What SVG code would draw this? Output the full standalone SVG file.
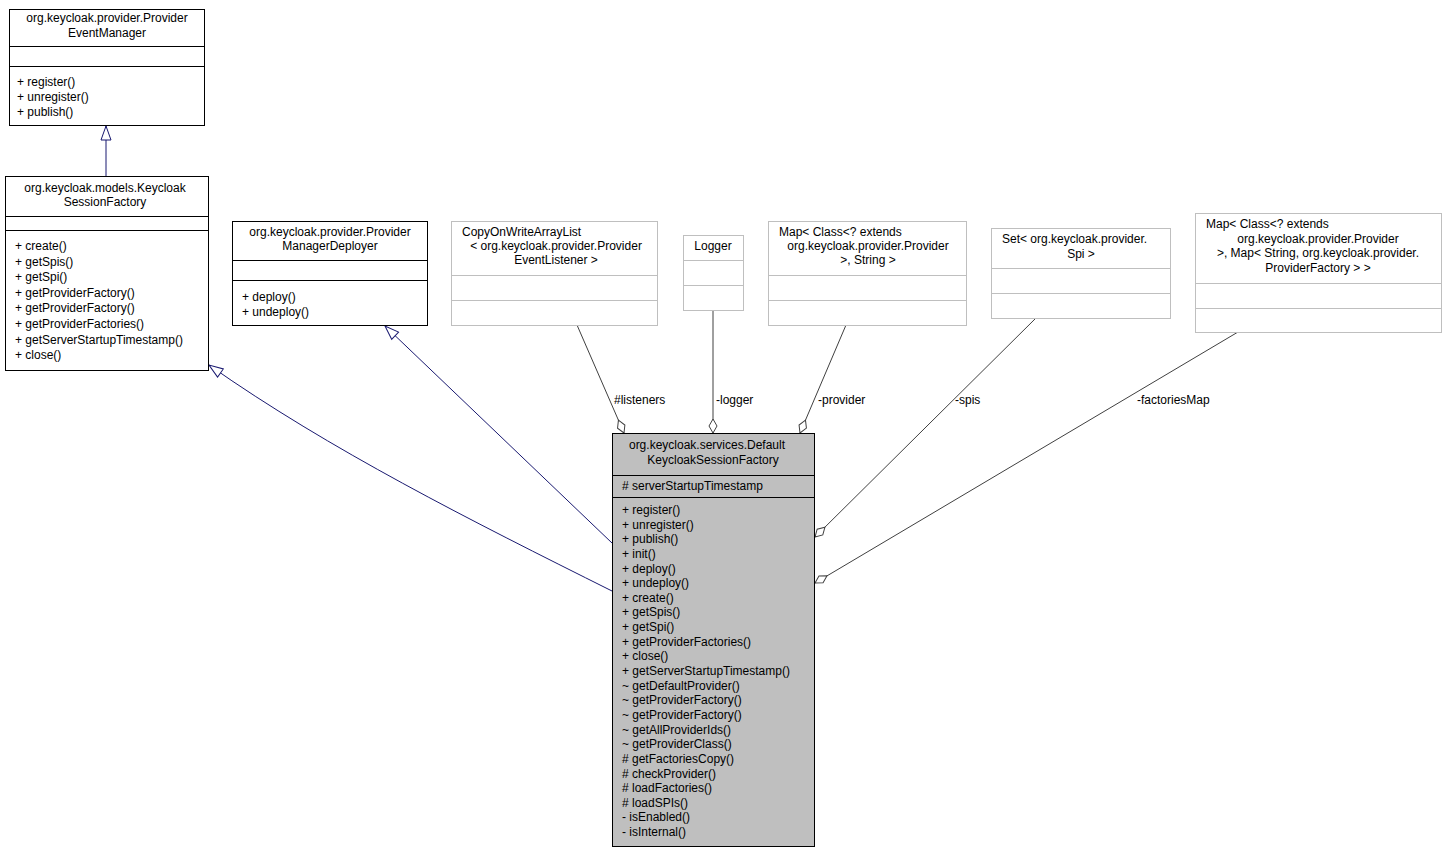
<svg xmlns="http://www.w3.org/2000/svg" width="1447" height="853" viewBox="0 0 1447 853">
<style>
text{font-family:"Liberation Sans",Arial,sans-serif;font-size:12px;fill:#000}
.b{fill:#fff;stroke:#000;stroke-width:1}
.g{fill:#fff;stroke:#bfbfbf;stroke-width:1}
.m{fill:#bfbfbf;stroke:#000;stroke-width:1}
.inh{fill:none;stroke:#191970;stroke-width:1}
.agg{fill:none;stroke:#404040;stroke-width:1}
.c{text-anchor:middle}
</style>
<defs>
<marker id="tri" markerWidth="16" markerHeight="12" refX="15" refY="6" orient="auto" markerUnits="userSpaceOnUse">
<path d="M1,1 L15,6 L1,11 Z" fill="#fff" stroke="#191970"/>
</marker>
<marker id="dia" markerWidth="16" markerHeight="10" refX="15" refY="5" orient="auto" markerUnits="userSpaceOnUse">
<path d="M1,5 L8,1 L15,5 L8,9 Z" fill="#fff" stroke="#404040"/>
</marker>
</defs>
<rect width="1447" height="853" fill="#fff"/>
<g id="connectors">
<path class="inh" d="M106,176 L106,126" marker-end="url(#tri)"/>
<path class="inh" d="M612,591 C470,520 330,450 209,365" marker-end="url(#tri)"/>
<path class="inh" d="M612,543 L385,326" marker-end="url(#tri)"/>
<path class="agg" d="M577,325 L624,433" marker-end="url(#dia)"/>
<path class="agg" d="M713,310 L713,433" marker-end="url(#dia)"/>
<path class="agg" d="M846,325 L800,433" marker-end="url(#dia)"/>
<path class="agg" d="M1036,318 L815,537" marker-end="url(#dia)"/>
<path class="agg" d="M1238,332 L815,583" marker-end="url(#dia)"/>
<text x="614" y="404">#listeners</text>
<text x="716" y="404">-logger</text>
<text x="818" y="404">-provider</text>
<text x="955" y="404">-spis</text>
<text x="1137" y="404">-factoriesMap</text>
</g>
<g id="ProviderEventManager">
<rect class="b" x="9.5" y="9.5" width="195" height="116"/>
<line x1="9.5" y1="46.5" x2="204.5" y2="46.5" stroke="#000"/>
<line x1="9.5" y1="66.5" x2="204.5" y2="66.5" stroke="#000"/>
<text class="c" x="107" y="22">org.keycloak.provider.Provider</text>
<text class="c" x="107" y="37">EventManager</text>
<text x="17" y="86">+ register()</text>
<text x="17" y="101">+ unregister()</text>
<text x="17" y="116">+ publish()</text>
</g>
<g id="KeycloakSessionFactory">
<rect class="b" x="5.5" y="176.5" width="203" height="194"/>
<line x1="5.5" y1="216.5" x2="208.5" y2="216.5" stroke="#000"/>
<line x1="5.5" y1="230.5" x2="208.5" y2="230.5" stroke="#000"/>
<text class="c" x="105" y="192">org.keycloak.models.Keycloak</text>
<text class="c" x="105" y="206">SessionFactory</text>
<text x="15" y="250">+ create()</text>
<text x="15" y="265.6">+ getSpis()</text>
<text x="15" y="281.2">+ getSpi()</text>
<text x="15" y="296.8">+ getProviderFactory()</text>
<text x="15" y="312.4">+ getProviderFactory()</text>
<text x="15" y="328">+ getProviderFactories()</text>
<text x="15" y="343.6">+ getServerStartupTimestamp()</text>
<text x="15" y="359.2">+ close()</text>
</g>
<g id="ProviderManagerDeployer">
<rect class="b" x="232.5" y="221.5" width="195" height="104"/>
<line x1="232.5" y1="260.5" x2="427.5" y2="260.5" stroke="#000"/>
<line x1="232.5" y1="280.5" x2="427.5" y2="280.5" stroke="#000"/>
<text class="c" x="330" y="236">org.keycloak.provider.Provider</text>
<text class="c" x="330" y="250">ManagerDeployer</text>
<text x="242" y="301">+ deploy()</text>
<text x="242" y="316">+ undeploy()</text>
</g>
<g id="CopyOnWriteArrayList">
<rect class="g" x="451.5" y="221.5" width="206" height="104"/>
<line x1="451.5" y1="275.5" x2="657.5" y2="275.5" stroke="#bfbfbf"/>
<line x1="451.5" y1="300.5" x2="657.5" y2="300.5" stroke="#bfbfbf"/>
<text x="462" y="236">CopyOnWriteArrayList</text>
<text class="c" x="556" y="250">&lt; org.keycloak.provider.Provider</text>
<text class="c" x="556" y="264">EventListener &gt;</text>
</g>
<g id="Logger">
<rect class="g" x="683.5" y="235.5" width="60" height="75"/>
<line x1="683.5" y1="260.5" x2="743.5" y2="260.5" stroke="#bfbfbf"/>
<line x1="683.5" y1="285.5" x2="743.5" y2="285.5" stroke="#bfbfbf"/>
<text class="c" x="713" y="250">Logger</text>
</g>
<g id="MapProvider">
<rect class="g" x="768.5" y="221.5" width="198" height="104"/>
<line x1="768.5" y1="275.5" x2="966.5" y2="275.5" stroke="#bfbfbf"/>
<line x1="768.5" y1="300.5" x2="966.5" y2="300.5" stroke="#bfbfbf"/>
<text x="779" y="236">Map&lt; Class&lt;? extends</text>
<text class="c" x="868" y="250">org.keycloak.provider.Provider</text>
<text class="c" x="868" y="264">&gt;, String &gt;</text>
</g>
<g id="SetSpi">
<rect class="g" x="991.5" y="228.5" width="179" height="90"/>
<line x1="991.5" y1="268.5" x2="1170.5" y2="268.5" stroke="#bfbfbf"/>
<line x1="991.5" y1="293.5" x2="1170.5" y2="293.5" stroke="#bfbfbf"/>
<text x="1002" y="243">Set&lt; org.keycloak.provider.</text>
<text class="c" x="1081" y="258">Spi &gt;</text>
</g>
<g id="MapFactories">
<rect class="g" x="1195.5" y="213.5" width="246" height="119"/>
<line x1="1195.5" y1="283.5" x2="1441.5" y2="283.5" stroke="#bfbfbf"/>
<line x1="1195.5" y1="308.5" x2="1441.5" y2="308.5" stroke="#bfbfbf"/>
<text x="1206" y="228">Map&lt; Class&lt;? extends</text>
<text class="c" x="1318" y="243">org.keycloak.provider.Provider</text>
<text class="c" x="1318" y="257">&gt;, Map&lt; String, org.keycloak.provider.</text>
<text class="c" x="1318" y="272">ProviderFactory &gt; &gt;</text>
</g>
<g id="DefaultKeycloakSessionFactory">
<rect class="m" x="612.5" y="433.5" width="202" height="413"/>
<line x1="612.5" y1="475.5" x2="814.5" y2="475.5" stroke="#000"/>
<line x1="612.5" y1="497.5" x2="814.5" y2="497.5" stroke="#000"/>
<text class="c" x="707" y="449">org.keycloak.services.Default</text>
<text class="c" x="713" y="464">KeycloakSessionFactory</text>
<text x="622" y="490"># serverStartupTimestamp</text>
<g transform="translate(622,514)">
<text y="0">+ register()</text>
<text y="14.64">+ unregister()</text>
<text y="29.28">+ publish()</text>
<text y="43.92">+ init()</text>
<text y="58.56">+ deploy()</text>
<text y="73.2">+ undeploy()</text>
<text y="87.84">+ create()</text>
<text y="102.48">+ getSpis()</text>
<text y="117.12">+ getSpi()</text>
<text y="131.76">+ getProviderFactories()</text>
<text y="146.4">+ close()</text>
<text y="161.04">+ getServerStartupTimestamp()</text>
<text y="175.68">~ getDefaultProvider()</text>
<text y="190.32">~ getProviderFactory()</text>
<text y="204.96">~ getProviderFactory()</text>
<text y="219.6">~ getAllProviderIds()</text>
<text y="234.24">~ getProviderClass()</text>
<text y="248.88"># getFactoriesCopy()</text>
<text y="263.52"># checkProvider()</text>
<text y="278.16"># loadFactories()</text>
<text y="292.8"># loadSPIs()</text>
<text y="307.44">- isEnabled()</text>
<text y="322.08">- isInternal()</text>
</g>
</g>
</svg>
